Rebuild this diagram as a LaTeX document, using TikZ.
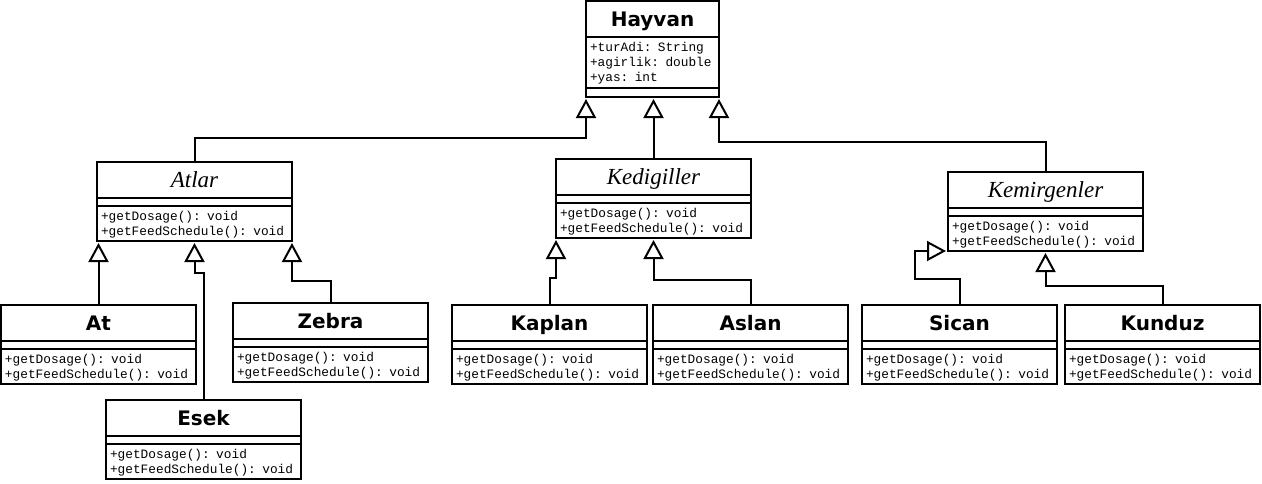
\documentclass[tikz,border=0pt]{standalone}
\usepackage{fontspec}
\usepackage{tikz}
\usetikzlibrary{arrows.meta,positioning}

\newfontfamily\classfont{DejaVu Sans}
\newfontfamily\abstractfont{Liberation Serif}
\newfontfamily\memberfont{Liberation Mono}

\tikzset{
	box/.style={draw, line width=2pt, outer sep=0pt, inner sep=0pt, anchor=north west, minimum width=195pt},
	namebox/.style={box, minimum height=36pt, text height=16pt, text depth=2pt, font=\classfont\bfseries\fontsize{20}{24}\selectfont},
	abstractbox/.style={box, minimum height=36pt, text height=16pt, text depth=2pt, font=\abstractfont\itshape\fontsize{23}{26}\selectfont},
	gapbox/.style={box, minimum height=8pt},
	opsbox/.style={box, minimum height=35pt, text height=14.4pt, text depth=20.6pt, text width=187pt, inner xsep=4pt, align=left, font=\memberfont\fontsize{12.8}{15}\selectfont},
	isa/.style={draw, line width=2pt, -{Triangle[open, length=19pt, width=20pt]}, shorten >=2pt},
}

\begin{document}
\begin{tikzpicture}[x=1pt, y=-1pt]
	\path[use as bounding box, fill=white] (0,0) rectangle (1262,483);

	%Hayvan
	\node[namebox, minimum width=133pt] (hayvan) at (586,1) {Hayvan};
	\node[opsbox, minimum width=133pt, text width=125pt, minimum height=51pt, text depth=36.6pt] (hayvan-attr) at (586,37) {+turAdi: String\\+agirlik: double\\+yas: int};
	\node[gapbox, minimum width=133pt, minimum height=9pt] (hayvan-gap) at (586,88) {};

	%Atlar
	\node[abstractbox] (atlar) at (97,162) {Atlar};
	\node[gapbox] (atlar-gap) at (97,198) {};
	\node[opsbox] (atlar-ops) at (97,206) {+getDosage(): void\\+getFeedSchedule(): void};

	%Kedigiller
	\node[abstractbox] (kedigiller) at (556,159) {Kedigiller};
	\node[gapbox] (kedigiller-gap) at (556,195) {};
	\node[opsbox] (kedigiller-ops) at (556,203) {+getDosage(): void\\+getFeedSchedule(): void};

	%Kemirgenler
	\node[abstractbox] (kemirgenler) at (948,172) {Kemirgenler};
	\node[gapbox] (kemirgenler-gap) at (948,208) {};
	\node[opsbox] (kemirgenler-ops) at (948,216) {+getDosage(): void\\+getFeedSchedule(): void};

	%At
	\node[namebox] (at) at (1,305) {At};
	\node[gapbox] (at-gap) at (1,341) {};
	\node[opsbox] (at-ops) at (1,349) {+getDosage(): void\\+getFeedSchedule(): void};

	%Zebra
	\node[namebox] (zebra) at (233,303) {Zebra};
	\node[gapbox] (zebra-gap) at (233,339) {};
	\node[opsbox] (zebra-ops) at (233,347) {+getDosage(): void\\+getFeedSchedule(): void};

	%Esek
	\node[namebox] (esek) at (106,400) {Esek};
	\node[gapbox] (esek-gap) at (106,436) {};
	\node[opsbox] (esek-ops) at (106,444) {+getDosage(): void\\+getFeedSchedule(): void};

	%Kaplan
	\node[namebox] (kaplan) at (452,305) {Kaplan};
	\node[gapbox] (kaplan-gap) at (452,341) {};
	\node[opsbox] (kaplan-ops) at (452,349) {+getDosage(): void\\+getFeedSchedule(): void};

	%Aslan
	\node[namebox] (aslan) at (653,305) {Aslan};
	\node[gapbox] (aslan-gap) at (653,341) {};
	\node[opsbox] (aslan-ops) at (653,349) {+getDosage(): void\\+getFeedSchedule(): void};

	%Sican
	\node[namebox] (sican) at (862,305) {Sican};
	\node[gapbox] (sican-gap) at (862,341) {};
	\node[opsbox] (sican-ops) at (862,349) {+getDosage(): void\\+getFeedSchedule(): void};

	%Kunduz
	\node[namebox] (kunduz) at (1065,305) {Kunduz};
	\node[gapbox] (kunduz-gap) at (1065,341) {};
	\node[opsbox] (kunduz-ops) at (1065,349) {+getDosage(): void\\+getFeedSchedule(): void};

	%Inheritance
	\draw[isa] (atlar.north) -- ++(0,-24) -| (hayvan-gap.south west);
	\draw[isa] (kedigiller.north) -- (kedigiller.north |- hayvan-gap.south);
	\draw[isa] (kemirgenler.north) -- ++(0,-30) -| (hayvan-gap.south east);

	\draw[isa] (at.north) -- (at.north |- atlar-ops.south);
	\draw[isa] (esek.north) -- ++(0,-127) -| (atlar-ops.south);
	\draw[isa] (zebra.north) -- ++(0,-22) -| (atlar-ops.south east);

	\draw[isa] (kaplan.north) -- ++(0,-27) -| (kedigiller-ops.south west);
	\draw[isa] (aslan.north) -- ++(0,-25) -| (kedigiller-ops.south);

	\draw[isa] (sican.north) -- ++(0,-26) -- ++(-44.5,0) |- (kemirgenler-ops.south west);
	\draw[isa] (kunduz.north) -- ++(0,-19) -| (kemirgenler-ops.south);

\end{tikzpicture}
\end{document}
